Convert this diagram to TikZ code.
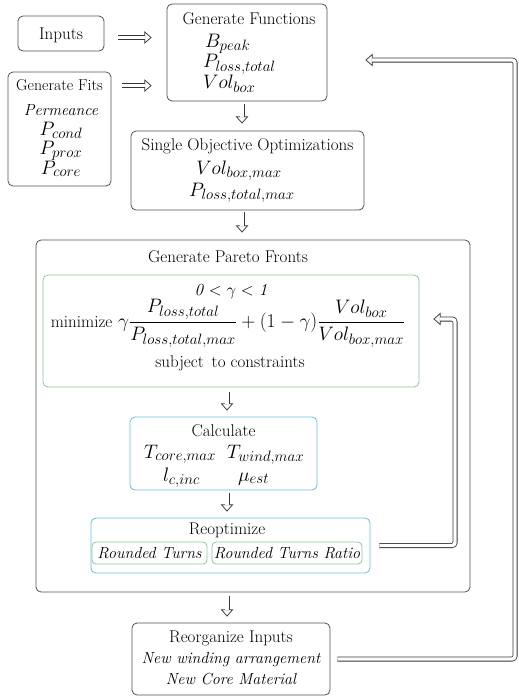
\RequirePackage{fix-cm}
\documentclass[tikz,border=0pt]{standalone}
\usepackage{amsmath}
\usetikzlibrary{arrows.meta}
\DeclareMathSizes{19.5}{19.5}{15}{11}
\definecolor{boxgray}{RGB}{80,80,80}
\definecolor{arrgray}{RGB}{55,55,55}
\definecolor{pgreen}{RGB}{140,200,150}
\definecolor{pcyan}{RGB}{105,190,220}
\newcommand\dblarr[2][]{\draw[tipsty,#1] #2; \draw[dbl,#1,shorten >=6.8pt] #2;}
\begin{document}
\begin{tikzpicture}[x=1pt,y=-1pt,
  box/.style={draw=boxgray, line width=0.8pt, rounded corners=5pt, inner sep=0pt},
  gbox/.style={box, draw=pgreen},
  cbox/.style={box, draw=pcyan},
  txt/.style={inner sep=0pt, anchor=base, font=\fontsize{17}{20}\selectfont},
  itx/.style={inner sep=0pt, anchor=base, font=\fontsize{16}{19}\selectfont\itshape},
  mth/.style={inner sep=0pt, anchor=base, font=\fontsize{19.5}{23}\selectfont},
  tipsty/.style={draw=arrgray, line width=0.75pt, -{Triangle[open, fill=white, length=7.2pt, width=12.5pt]}},
  dbl/.style={draw=arrgray, double=white, double distance=3.4pt, line width=0.8pt}]
\useasboundingbox (0,0) rectangle (519,697);

% boxes
\node[box, minimum width=86, minimum height=35] (inputs) at (61,33.5) {};
\node[box, minimum width=103, minimum height=114] (fits) at (59.5,129) {};
\node[box, minimum width=160, minimum height=97] (genfun) at (247,52.5) {};
\node[box, minimum width=233, minimum height=79] (soo) at (247.5,170.5) {};
\node[box, minimum width=434, minimum height=352] (pareto) at (253,416) {};
\node[gbox, minimum width=376, minimum height=112] (green) at (231,331) {};
\node[cbox, minimum width=187, minimum height=73] (calc) at (223.5,453.5) {};
\node[cbox, minimum width=279, minimum height=55] (reopt) at (230.5,545.5) {};
\node[gbox, rounded corners=4pt, minimum width=115, minimum height=22] (rt) at (149.5,553) {};
\node[gbox, rounded corners=4pt, minimum width=150, minimum height=22] (rtr) at (287,553) {};
\node[box, minimum width=198, minimum height=72] (reorg) at (231,659) {};

% texts
\node[txt] (tinputs) at (61,39) {Inputs};

\node[txt, font=\fontsize{15.8}{19}\selectfont] (tfits) at (59.5,90) {Generate Fits};
\node[itx] (tperm) at (61,115) {Permeance};
\node[mth] (tpcond) at (61,135) {$P_{cond}$};
\node[mth] (tpprox) at (61,154.5) {$P_{prox}$};
\node[mth] (tpcore) at (61,174) {$P_{core}$};

\node[txt] (tgf) at (249,24) {Generate Functions};
\node[mth, anchor=base west] (tbpeak) at (205,47) {$B_{peak}$};
\node[mth, anchor=base west] (tploss) at (203,67.5) {$P_{loss,total}$};
\node[mth, anchor=base west] (tvol) at (203,88.5) {$Vol_{box}$};

\node[txt] (tsoo) at (247.5,150) {Single Objective Optimizations};
\node[mth] (tvolmax) at (239,174) {$Vol_{box,max}$};
\node[mth] (tplossmax) at (242,196) {$P_{loss,total,max}$};

\node[txt] (tpareto) at (228,262) {Generate Pareto Fronts};
\node[txt] (tgamma) at (231,295) {\textit{0} $<\gamma<$ \textit{1}};
\node[mth] (tmin) at (228,327) {{\fontsize{17}{20}\selectfont minimize}
  $\displaystyle\gamma\frac{P_{loss,total}}{P_{loss,total,max}}+(1-\gamma)\frac{Vol_{box}}{Vol_{box,max}}$};
\node[txt] (tsubj) at (230,367) {subject\, to constraints};

\node[txt] (tcalc) at (223.5,436) {Calculate};
\node[mth, anchor=base west] (ttcore) at (144,458) {$T_{core,max}$};
\node[mth, anchor=base west] (ttwind) at (227,458) {$T_{wind,max}$};
\node[mth, anchor=base west] (tlc) at (163,481) {$l_{c,inc}$};
\node[mth, anchor=base west] (tmu) at (238,481) {$\mu_{est}$};

\node[txt] (treopt) at (227,534) {Reoptimize};
\node[itx, anchor=center] (trt) at (rt) {Rounded Turns};
\node[itx, anchor=center] (trtr) at (rtr) {Rounded Turns Ratio};

\node[txt] (treorg) at (231,642) {Reorganize Inputs};
\node[itx] (tnew1) at (231,663) {New winding arrangement};
\node[itx] (tnew2) at (231,684) {New Core Material};

% arrows
\dblarr{([shift={(14,4)}]inputs.east) -- ([shift={(-15,4)}]inputs.east -| genfun.west)}
\dblarr{([shift={(11,14)}]fits.north east) -- ([shift={(-15,14)}]fits.north east -| genfun.west)}
\dblarr{([shift={(-5,3)}]genfun.south) -- ([shift={(-5,-7)}]genfun.south |- soo.north)}
\dblarr{([shift={(-5.5,2)}]soo.south) -- ([shift={(-5.5,-7)}]soo.south |- pareto.north)}
\dblarr{([shift={(-4,5)}]green.south) -- ([shift={(-4,-6)}]green.south |- calc.north)}
\dblarr{([shift={(3.5,3)}]calc.south) -- ([shift={(3.5,-6)}]calc.south |- reopt.north)}
\dblarr{([shift={(-4,4)}]reorg.north |- pareto.south) -- ([shift={(-4,-6)}]reorg.north)}

\coordinate (fb1) at (455,319);
\dblarr[rounded corners=3pt]{([xshift=9pt]reopt.east) -- (reopt.east -| fb1) -- (fb1) -- ([xshift=14pt]green.east |- fb1)}
\coordinate (fb2) at (515,60);
\dblarr[rounded corners=3pt]{([xshift=7pt]reorg.east) -- (reorg.east -| fb2) -- (fb2) -- ([xshift=38pt]genfun.east |- fb2)}
\end{tikzpicture}
\end{document}
